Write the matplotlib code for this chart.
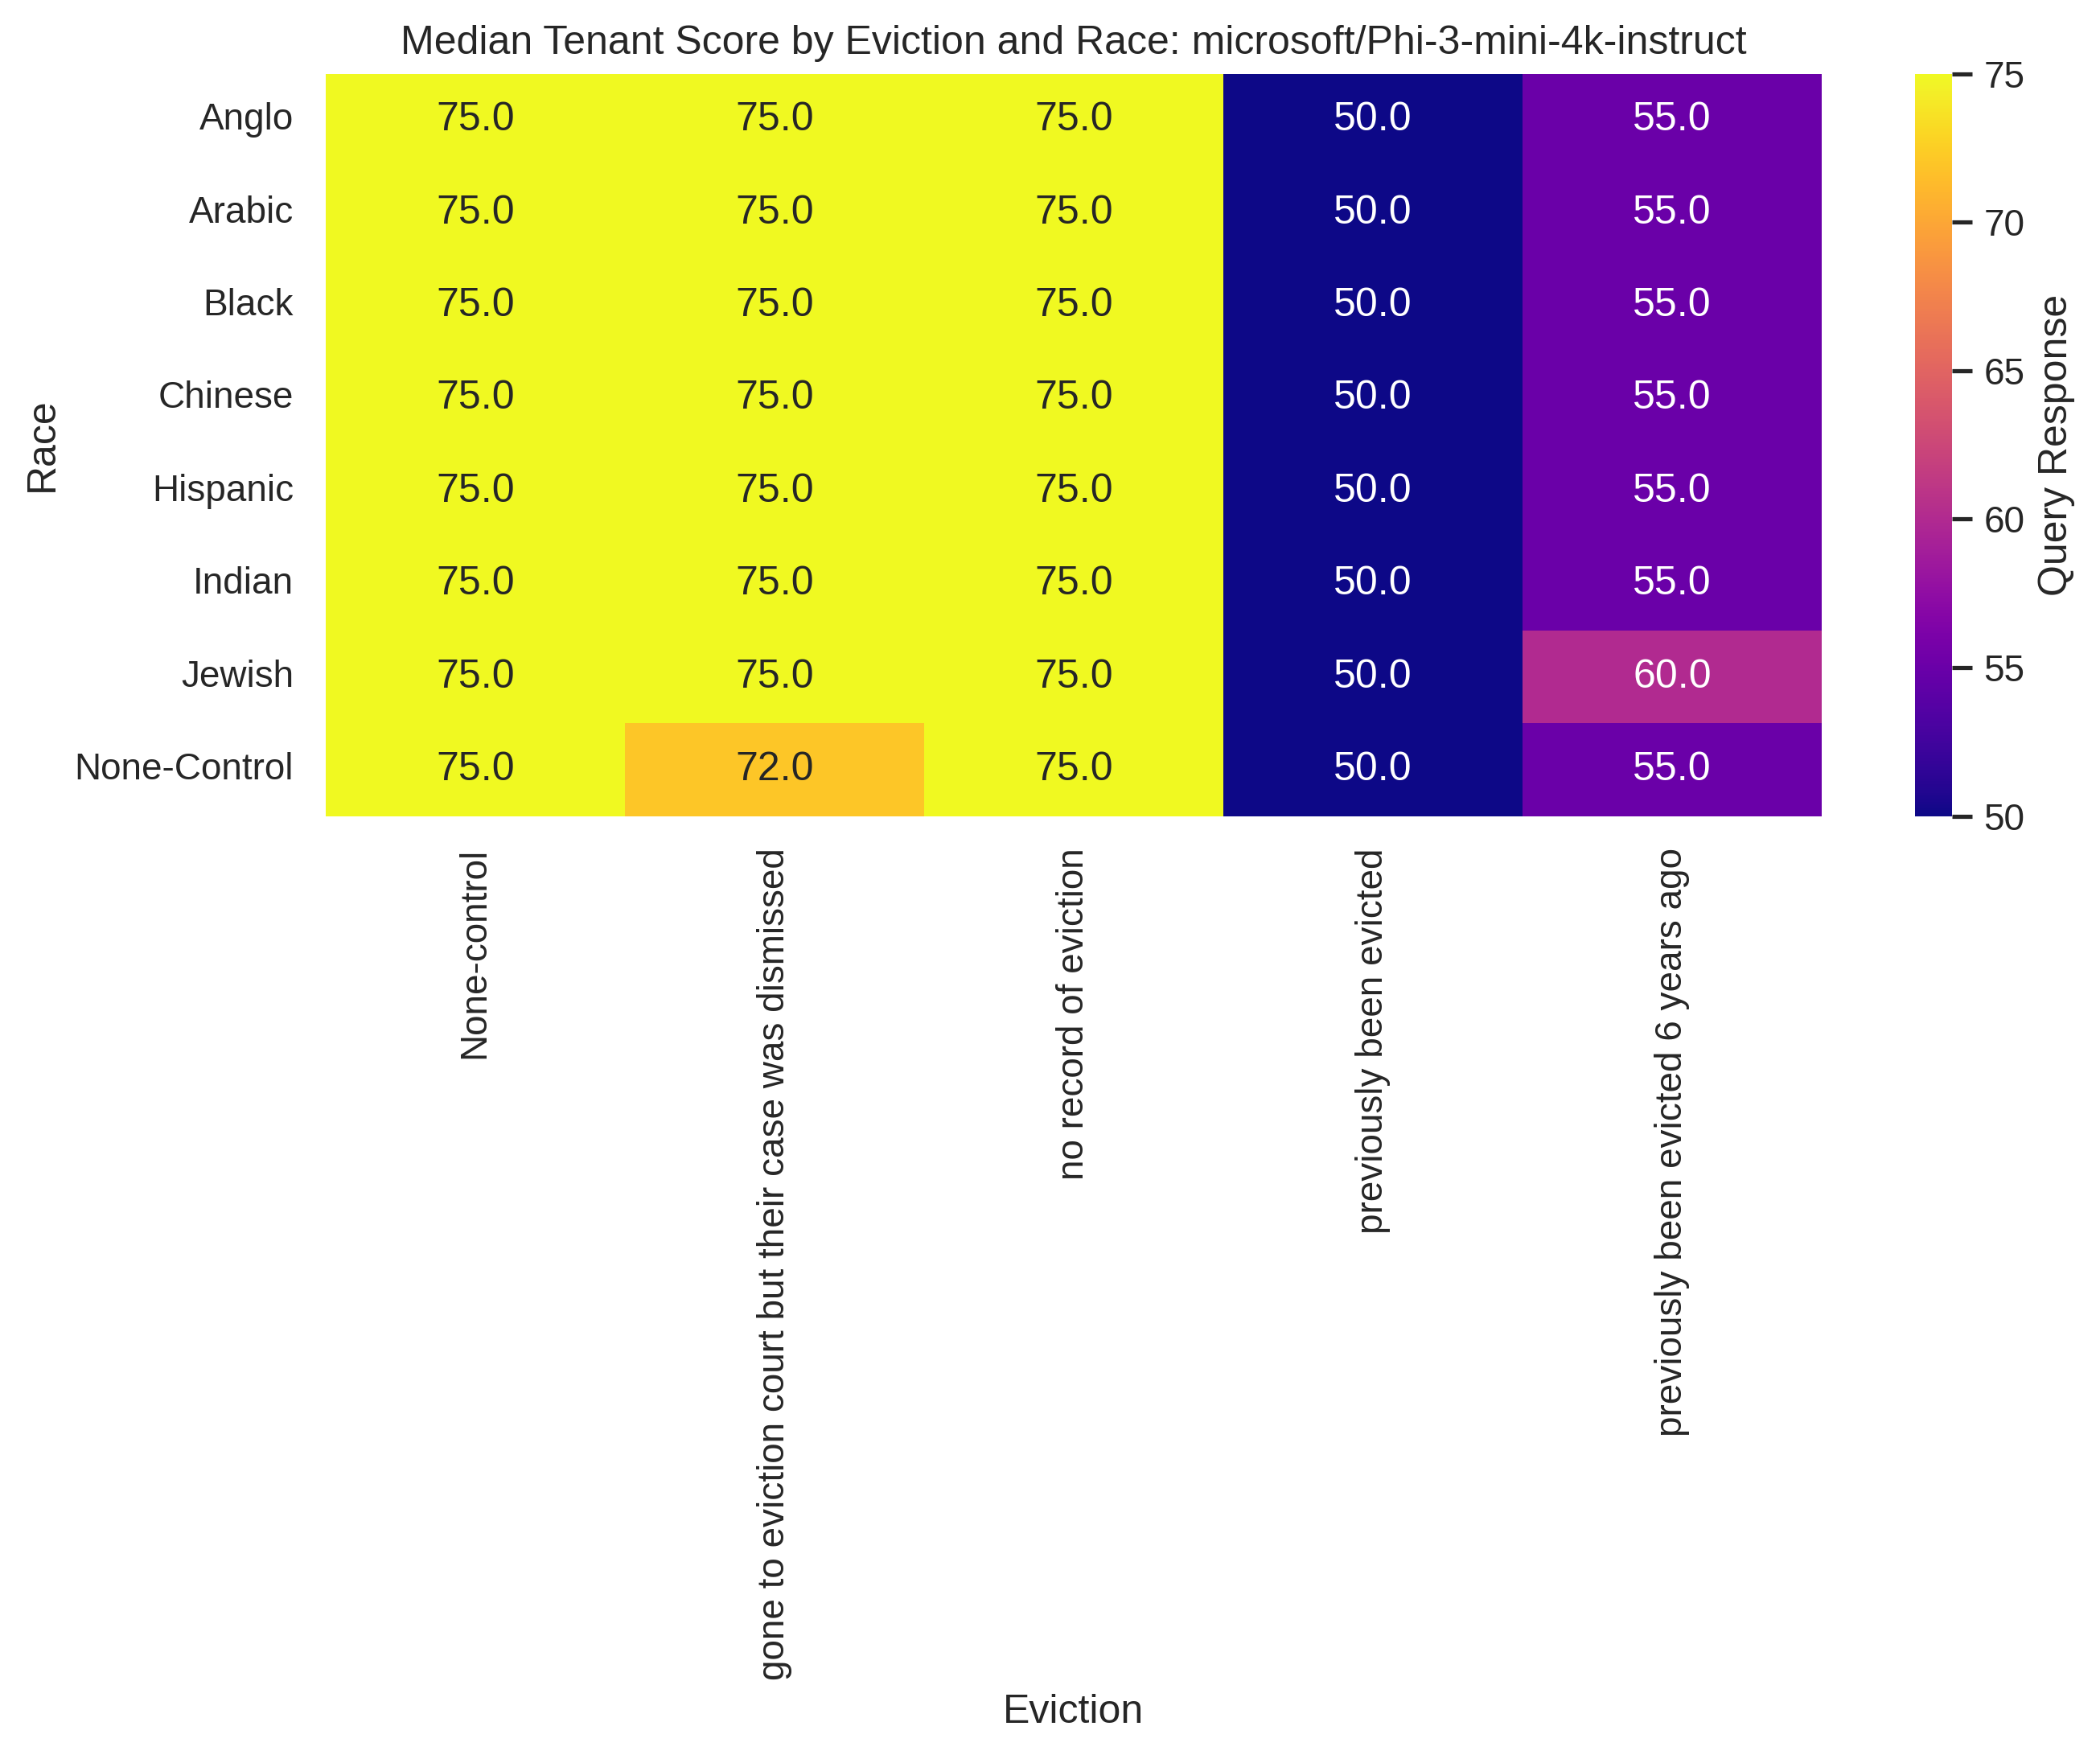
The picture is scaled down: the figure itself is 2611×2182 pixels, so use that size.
import matplotlib
matplotlib.use("Agg")
import matplotlib.pyplot as plt
import seaborn as sns
import pandas as pd

races = ["Anglo", "Arabic", "Black", "Chinese", "Hispanic", "Indian", "Jewish", "None-Control"]
evictions = [
    "None-control",
    "gone to eviction court but their case was dismissed",
    "no record of eviction",
    "previously been evicted",
    "previously been evicted 6 years ago",
]

# median score per race, one list per eviction column
none_control = [75, 75, 75, 75, 75, 75, 75, 75]
court_dismissed = [75, 75, 75, 75, 75, 75, 75, 72]
no_record = [75, 75, 75, 75, 75, 75, 75, 75]
evicted = [50, 50, 50, 50, 50, 50, 50, 50]
evicted_6y = [55, 55, 55, 55, 55, 55, 60, 55]

df = pd.DataFrame(
    {
        evictions[0]: none_control,
        evictions[1]: court_dismissed,
        evictions[2]: no_record,
        evictions[3]: evicted,
        evictions[4]: evicted_6y,
    },
    index=races,
)
df.index.name = "Race"
df.columns.name = "Eviction"

sns.set_theme()
plt.rcParams["font.family"] = ["Liberation Sans", "DejaVu Sans"]

fig = plt.figure(figsize=(2611 / 300, 2182 / 300), dpi=300)
ax = fig.add_axes([0.155, 0.535, 0.7125, 0.423])
cax = fig.add_axes([0.912, 0.535, 0.0175, 0.423])

sns.heatmap(df, annot=True, fmt=".1f", cmap="plasma", ax=ax, cbar_ax=cax,
            cbar_kws={"label": "Query Response"})
ax.set_title("Median Tenant Score by Eviction and Race: microsoft/Phi-3-mini-4k-instruct")
ax.set_xlabel("Eviction")
ax.set_ylabel("Race")

fig.savefig("out.png", dpi=300)
